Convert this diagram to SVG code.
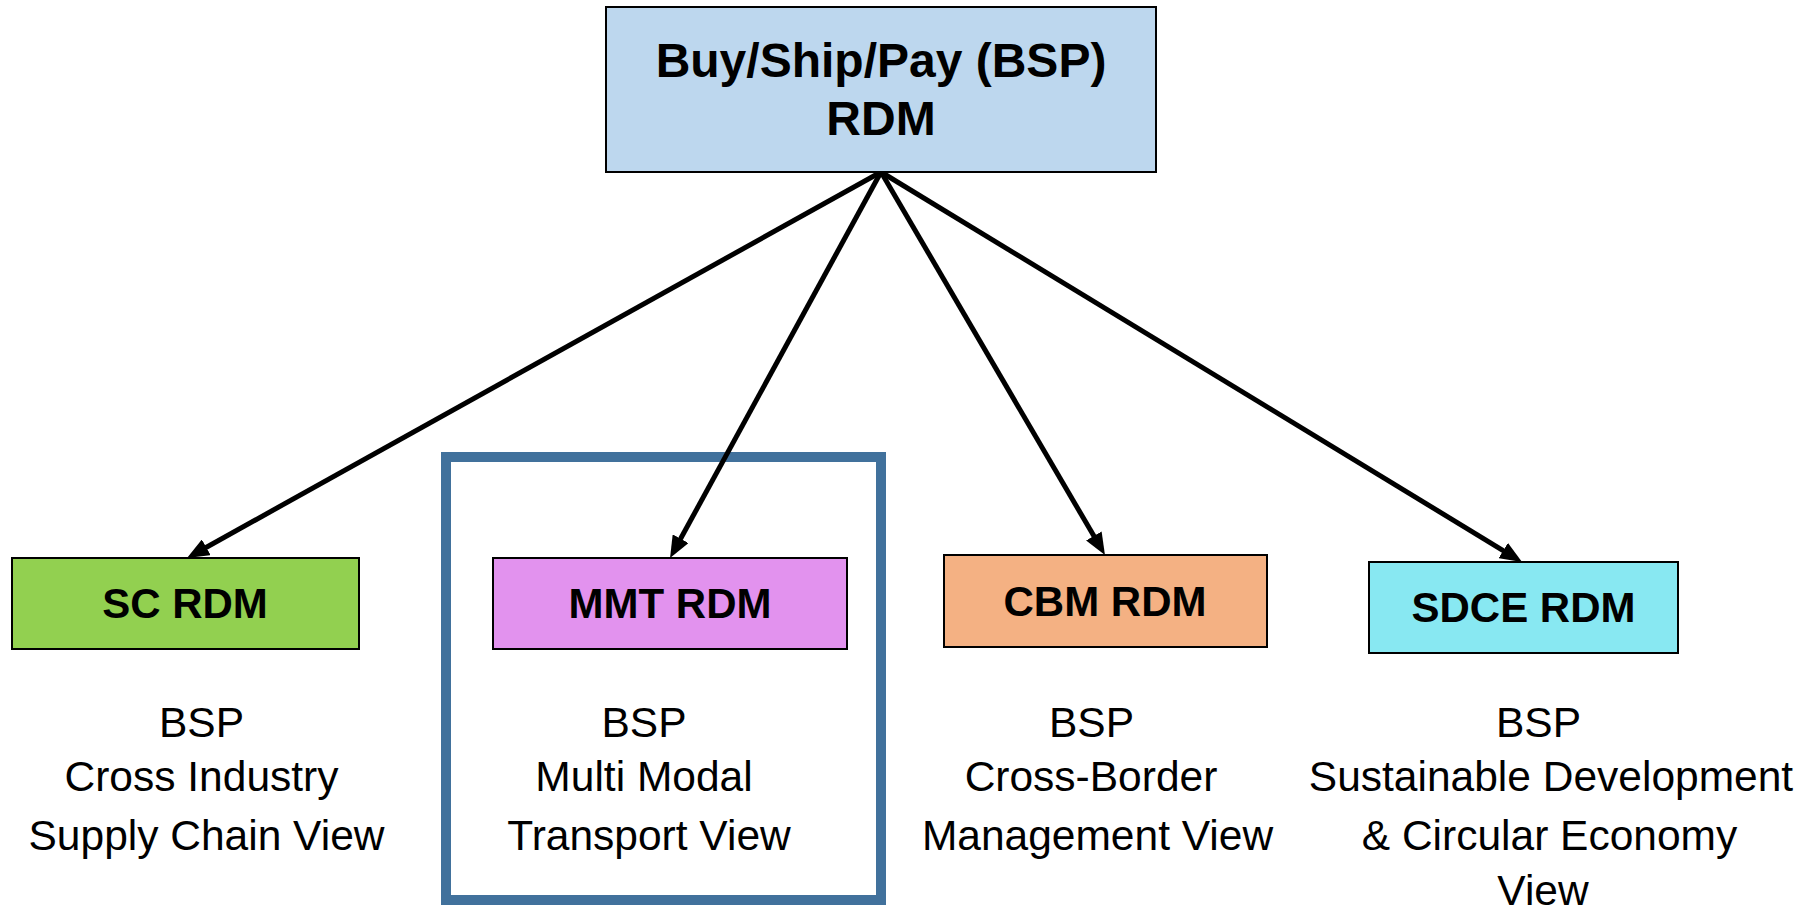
<svg xmlns="http://www.w3.org/2000/svg" width="1816" height="914" viewBox="0 0 1816 914">
<style>
.box{stroke:#000;stroke-width:2}
.title{font-family:"Liberation Sans",Arial,sans-serif;font-weight:bold;fill:#000;text-anchor:middle}
.view{font-family:"Liberation Sans",Arial,sans-serif;font-size:42.5px;fill:#000;text-anchor:middle}
.conn{stroke:#000;stroke-width:5;fill:none;marker-end:url(#arrow)}
</style>
<defs>
<marker id="arrow" markerUnits="userSpaceOnUse" viewBox="0 0 22 18" refX="10" refY="9" markerWidth="22" markerHeight="18" orient="auto">
<path d="M0,0 L22,9 L0,18 Z" fill="#000"/>
</marker>
</defs>
<rect width="1816" height="914" fill="#fff"/>
<g id="highlight">
<rect x="446" y="457" width="435" height="443" fill="none" stroke="#41719C" stroke-width="10"/>
</g>
<g id="connectors">
<line class="conn" x1="881" y1="172" x2="197.5" y2="552.2"/>
<line class="conn" x1="881" y1="172" x2="675.8" y2="547.5"/>
<line class="conn" x1="881" y1="172" x2="1098.9" y2="544.6"/>
<line class="conn" x1="881" y1="172" x2="1511.8" y2="555.8"/>
</g>
<g id="bsp">
<rect class="box" x="606" y="7" width="550" height="165" fill="#BDD7EE"/>
<text class="title" x="881" y="77" font-size="48">Buy/Ship/Pay (BSP)</text>
<text class="title" x="881" y="135" font-size="48">RDM</text>
</g>
<g id="sc">
<rect class="box" x="12" y="558" width="347" height="91" fill="#92D050"/>
<text class="title" x="185" y="618" font-size="42">SC RDM</text>
<text class="view" x="201.5" y="737">BSP</text>
<text class="view" x="201.5" y="791">Cross Industry</text>
<text class="view" x="206.5" y="850">Supply Chain View</text>
</g>
<g id="mmt">
<rect class="box" x="493" y="558" width="354" height="91" fill="#E292EE"/>
<text class="title" x="670" y="618" font-size="42">MMT RDM</text>
<text class="view" x="644" y="737">BSP</text>
<text class="view" x="644" y="791">Multi Modal</text>
<text class="view" x="649" y="850">Transport View</text>
</g>
<g id="cbm">
<rect class="box" x="944" y="555" width="323" height="92" fill="#F4B183"/>
<text class="title" x="1105" y="616" font-size="42">CBM RDM</text>
<text class="view" x="1091.5" y="737">BSP</text>
<text class="view" x="1091" y="791">Cross-Border</text>
<text class="view" x="1097.5" y="850">Management View</text>
</g>
<g id="sdce">
<rect class="box" x="1369" y="562" width="309" height="91" fill="#88E8F2"/>
<text class="title" x="1523.5" y="622" font-size="42">SDCE RDM</text>
<text class="view" x="1538.5" y="737">BSP</text>
<text class="view" x="1551" y="791">Sustainable Development</text>
<text class="view" x="1549.5" y="850">&amp; Circular Economy</text>
<text class="view" x="1543" y="905">View</text>
</g>
</svg>
